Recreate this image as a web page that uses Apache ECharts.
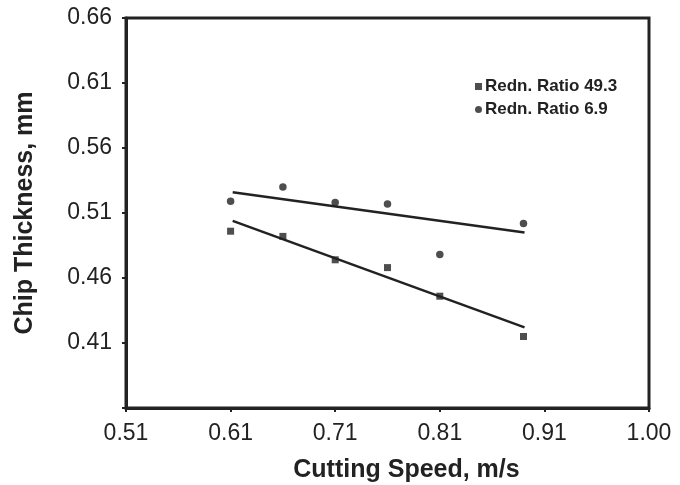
<!DOCTYPE html>
<html>
<head>
<meta charset="utf-8">
<script src="https://cdn.jsdelivr.net/npm/echarts@6/dist/echarts.min.js"></script>
<style>
html,body{margin:0;padding:0;background:#fff;}
#chart{width:680px;height:485px;}
</style>
</head>
<body>
<div id="chart"></div>
<script>
// Data
var speeds = [0.61, 0.66, 0.71, 0.76, 0.81, 0.89];
var ratio49 = [0.496, 0.492, 0.474, 0.468, 0.446, 0.415];
var ratio69 = [0.519, 0.530, 0.518, 0.517, 0.478, 0.502];
var fitX = [0.612, 0.891];
var fit49 = [0.504, 0.422];
var fit69 = [0.526, 0.495];
var xTickLabels = ['0.51', '0.61', '0.71', '0.81', '0.91', '1.00'];
var yTickLabels = ['', '0.41', '0.46', '0.51', '0.56', '0.61', '0.66'];
var seriesNames = ['Redn. Ratio 49.3', 'Redn. Ratio 6.9'];

function pairs(xs, ys) { return xs.map(function (x, i) { return [x, ys[i]]; }); }

var ink = '#222';
var font = '"Liberation Sans", Arial, Helvetica, sans-serif';
var chart = echarts.init(document.getElementById('chart'));
chart.setOption({
  animation: false,
  backgroundColor: '#fff',
  grid: { left: 126, right: 31, top: 18, bottom: 77, show: true, borderColor: ink, borderWidth: 3,
          containLabel: false, outerBoundsMode: 'none' },
  legend: {
    data: seriesNames,
    orient: 'vertical',
    left: 470, top: 73,
    itemWidth: 7, itemHeight: 7, itemGap: 6,
    textStyle: { fontFamily: font, fontWeight: 'bold', fontSize: 17, color: ink, padding: [0, 0, 0, -2] }
  },
  xAxis: {
    type: 'value', min: 0.51, max: 1.01, interval: 0.1,
    name: 'Cutting Speed, m/s', nameLocation: 'middle', nameGap: 50,
    nameTextStyle: { fontFamily: font, fontWeight: 'bold', fontSize: 25, color: ink, padding: [0, 0, 0, 38] },
    axisLine: { show: true, lineStyle: { color: ink, width: 3 } },
    axisTick: { show: true, length: 4, lineStyle: { color: ink, width: 2 } },
    axisLabel: {
      margin: 14, fontFamily: font, fontSize: 23, color: ink,
      formatter: function (v) { return xTickLabels[Math.round((v - 0.51) / 0.1)]; }
    },
    splitLine: { show: false }
  },
  yAxis: {
    type: 'value', min: 0.36, max: 0.66, interval: 0.05,
    name: 'Chip Thickness, mm', nameLocation: 'middle', nameGap: 88,
    nameTextStyle: { fontFamily: font, fontWeight: 'bold', fontSize: 25, color: ink },
    axisLine: { show: true, lineStyle: { color: ink, width: 3 } },
    axisTick: { show: true, length: 4, lineStyle: { color: ink, width: 2 } },
    axisLabel: {
      margin: 14, fontFamily: font, fontSize: 23, color: ink,
      formatter: function (v) { return yTickLabels[Math.round((v - 0.36) / 0.05)]; }
    },
    splitLine: { show: false }
  },
  series: [
    { name: seriesNames[0], type: 'scatter', symbol: 'rect', symbolSize: 7,
      itemStyle: { color: ink }, data: pairs(speeds, ratio49), z: 3 },
    { name: seriesNames[1], type: 'scatter', symbol: 'circle', symbolSize: 7.5,
      itemStyle: { color: ink }, data: pairs(speeds, ratio69), z: 3 },
    { name: 'fit49', type: 'line', showSymbol: false, symbol: 'none',
      lineStyle: { color: ink, width: 2.5 }, data: pairs(fitX, fit49) },
    { name: 'fit69', type: 'line', showSymbol: false, symbol: 'none',
      lineStyle: { color: ink, width: 2.5 }, data: pairs(fitX, fit69) }
  ]
});
</script>
</body>
</html>
